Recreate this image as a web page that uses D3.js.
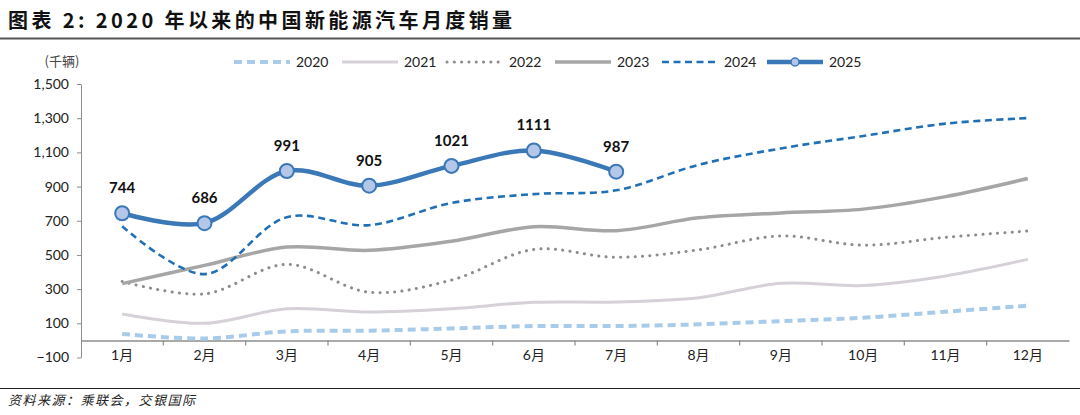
<!DOCTYPE html>
<html>
<head>
<meta charset="utf-8">
<script src="https://cdn.jsdelivr.net/npm/d3@7"></script>
<style>
  body { margin: 0; background: #fff; }
  svg { display: block; }
</style>
</head>
<body>
<div class="chartHolder"></div>
<script>
// months and yearly series (千辆)
const months = ["1月", "2月", "3月", "4月", "5月", "6月", "7月", "8月", "9月", "10月", "11月", "12月"];
const yTicks = [-100, 100, 300, 500, 700, 900, 1100, 1300, 1500];
const sales2020 = [38, 11, 53, 57, 70, 84, 84, 94, 113, 133, 168, 203];
const sales2021 = [155, 100, 185, 166, 185, 223, 225, 250, 334, 321, 377, 474];
const sales2022 = [345, 272, 445, 282, 353, 532, 486, 530, 611, 557, 603, 640];
const sales2023 = [332, 439, 546, 527, 580, 665, 642, 717, 746, 768, 841, 947];
const sales2024 = [668, 388, 721, 674, 804, 856, 878, 1027, 1123, 1196, 1268, 1301];
const sales2025 = [744, 686, 991, 905, 1021, 1111, 987];

const series = [
  { name: "2020", values: sales2020, color: "#A9CBEA", width: 4, dash: "8,5" },
  { name: "2021", values: sales2021, color: "#D6D1D8", width: 3, dash: null },
  { name: "2022", values: sales2022, color: "#8E8A8E", width: 3, dash: "0.1,7.2", cap: "round" },
  { name: "2023", values: sales2023, color: "#A6A6A6", width: 3.5, dash: null },
  { name: "2024", values: sales2024, color: "#1F70B6", width: 2.6, dash: "7,4.5" },
  { name: "2025", values: sales2025, color: "#3A78B7", width: 4.5, dash: null, marker: true }
];

const W = 1080, H = 415;
const svg = d3.select(".chartHolder").append("svg")
  .attr("width", W)
  .attr("height", H)
  .style("font-family", "Lato, 'Noto Sans CJK SC', sans-serif");

// title + rules
svg.append("text")
  .attr("x", 8).attr("y", 28)
  .attr("font-size", 20).attr("font-weight", "bold")
  .attr("letter-spacing", 3.4)
  .attr("font-family", "'Noto Sans CJK SC', sans-serif")
  .attr("fill", "#111")
  .text("图表 2: 2020 年以来的中国新能源汽车月度销量");
svg.append("line").attr("x1", 0).attr("x2", W).attr("y1", 38.5).attr("y2", 38.5)
  .attr("stroke", "#555").attr("stroke-width", 2);
svg.append("line").attr("x1", 0).attr("x2", W).attr("y1", 388.5).attr("y2", 388.5)
  .attr("stroke", "#222").attr("stroke-width", 1);
svg.append("text")
  .attr("x", 8).attr("y", 405)
  .attr("font-size", 13).attr("font-style", "italic")
  .attr("letter-spacing", 1.5)
  .attr("font-family", "'Noto Sans CJK SC', sans-serif")
  .attr("fill", "#222")
  .text("资料来源：乘联会，交银国际");

// scales
const x = d3.scaleBand().domain(months).range([81, 1069]).padding(0);
const y = d3.scaleLinear().domain([-100, 1500]).range([357.5, 84]);
const cx = m => x(m) + x.bandwidth() / 2;

// y axis
const yAxis = svg.append("g")
  .attr("transform", "translate(81,0)")
  .call(d3.axisLeft(y).tickValues(yTicks).tickSize(4).tickSizeOuter(0).tickFormat(d3.format(",")));
yAxis.select(".domain").attr("stroke", "#8c8c8c");
yAxis.selectAll(".tick line").attr("stroke", "#8c8c8c");
yAxis.selectAll(".tick text").attr("font-size", 14).attr("fill", "#222").attr("x", -12)
  .attr("font-family", "Lato, sans-serif");

svg.append("text")
  .attr("x", 62).attr("y", 66)
  .attr("text-anchor", "middle")
  .attr("font-size", 13).attr("fill", "#444")
  .attr("font-family", "'Noto Sans CJK SC', sans-serif")
  .text("(千辆)");

// x axis at zero
const xAxis = svg.append("g")
  .attr("transform", `translate(0,${y(0)})`)
  .call(d3.axisBottom(x).tickSize(0).tickPadding(10));
xAxis.select(".domain").attr("stroke", "#8c8c8c").attr("stroke-width", 1.5);
xAxis.selectAll(".tick text").attr("font-size", 14).attr("fill", "#222")
  .attr("font-family", "Lato, 'Noto Sans CJK SC', sans-serif");
svg.append("g").selectAll("line")
  .data(months.slice(1))
  .enter().append("line")
  .attr("x1", d => x(d)).attr("x2", d => x(d))
  .attr("y1", y(0)).attr("y2", y(0) + 5)
  .attr("stroke", "#8c8c8c").attr("stroke-width", 1.2);

// lines
const line = d3.line()
  .x((d, i) => cx(months[i]))
  .y(d => y(d))
  .curve(d3.curveCatmullRom.alpha(0.5));

series.forEach(s => {
  svg.append("path")
    .datum(s.values)
    .attr("d", line)
    .attr("fill", "none")
    .attr("stroke", s.color)
    .attr("stroke-width", s.width)
    .attr("stroke-dasharray", s.dash)
    .attr("stroke-linecap", s.cap || "butt");
});

// 2025 markers and labels
const s25 = series[5];
svg.selectAll(".pt25")
  .data(s25.values)
  .enter().append("circle")
  .attr("cx", (d, i) => cx(months[i]))
  .attr("cy", d => y(d))
  .attr("r", 7)
  .attr("fill", "#B4C7E9")
  .attr("stroke", s25.color)
  .attr("stroke-width", 2);
svg.selectAll(".lbl25")
  .data(s25.values)
  .enter().append("text")
  .attr("x", (d, i) => cx(months[i]))
  .attr("y", d => y(d) - 20)
  .attr("text-anchor", "middle")
  .attr("font-size", 15).attr("font-weight", "bold")
  .attr("fill", "#111")
  .text(d => d);

// legend
const legendX = [234, 342, 447, 555, 662, 767];
const legend = svg.append("g");
series.forEach((s, i) => {
  const g = legend.append("g").attr("transform", `translate(${legendX[i]},62)`);
  g.append("line")
    .attr("x1", 0).attr("x2", 56).attr("y1", 0).attr("y2", 0)
    .attr("stroke", s.color)
    .attr("stroke-width", s.width)
    .attr("stroke-dasharray", s.dash)
    .attr("stroke-linecap", s.cap || "butt");
  if (s.marker) {
    g.append("circle").attr("cx", 28).attr("cy", 0).attr("r", 4)
      .attr("fill", "#B4C7E9").attr("stroke", s.color).attr("stroke-width", 1.5);
  }
  g.append("text")
    .attr("x", 62).attr("y", 5)
    .attr("font-size", 14).attr("fill", "#222")
    .text(s.name);
});
</script>
</body>
</html>
